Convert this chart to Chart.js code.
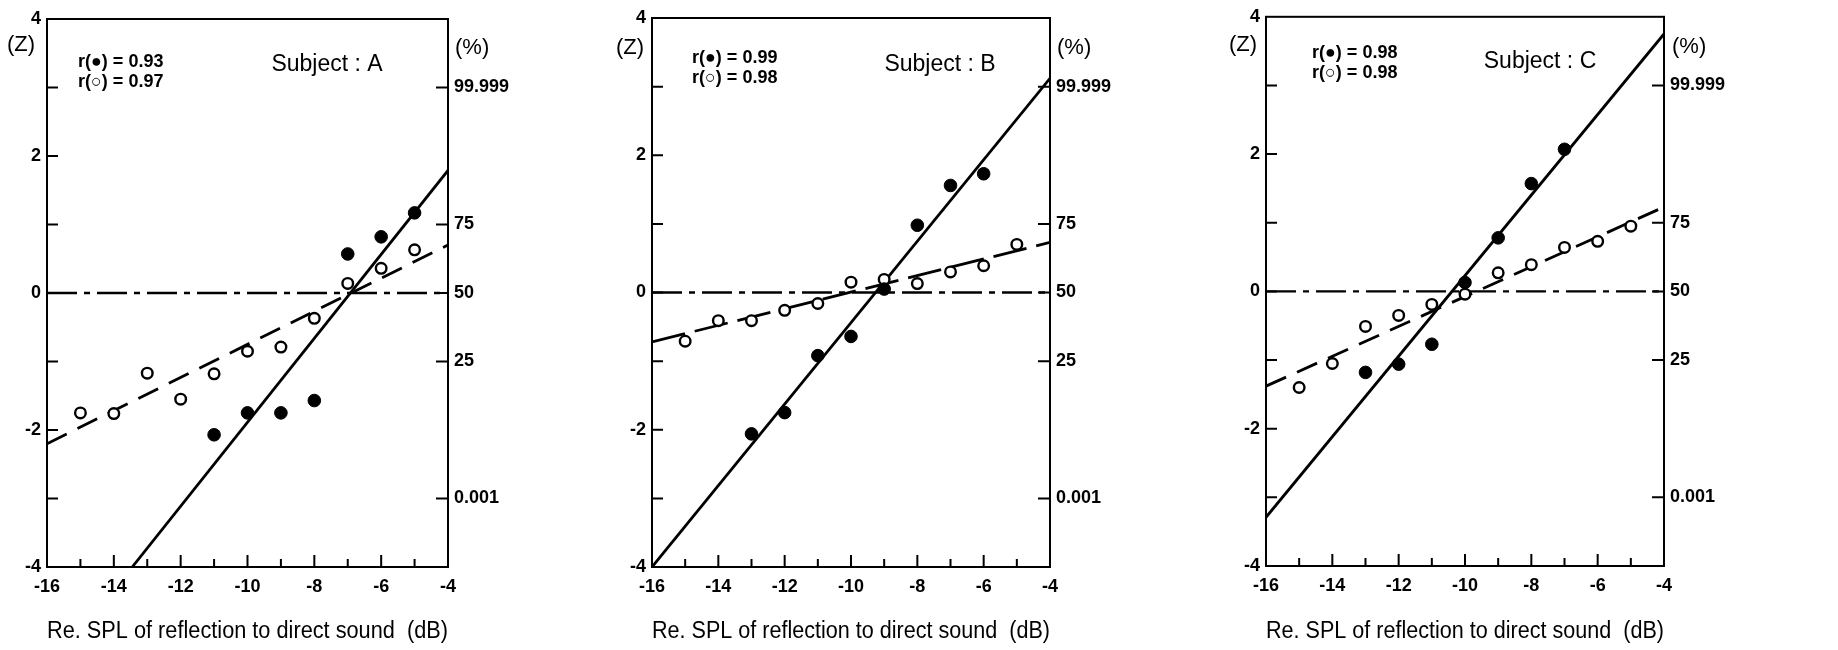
<!DOCTYPE html>
<html lang="en">
<head>
<meta charset="UTF-8">
<title>Re. SPL of reflection to direct sound</title>
<script src="https://cdn.jsdelivr.net/npm/chart.js"></script>
<style>
  html, body { margin: 0; padding: 0; background: #fff; }
  #wrap { position: relative; width: 1838px; height: 650px; overflow: hidden; }
  #wrap canvas { position: absolute; top: 0; }
</style>
</head>
<body>
<div id="wrap">
  <canvas id="subjA" width="610" height="650" style="left:0px"></canvas>
  <canvas id="subjB" width="610" height="650" style="left:610px"></canvas>
  <canvas id="subjC" width="618" height="650" style="left:1220px"></canvas>
</div>

<script>
// Z-score axis and percentage labels on the right
const zTicks = [-4, -3, -2, -1, 0, 1, 2, 3, 4];
const pctTickZ = [3, 1, 0, -1, -3];
const pctTickLabels = ['99.999', '75', '50', '25', '0.001'];

// Subject A
const aFilledX = [-11, -10, -9, -8, -7, -6, -5];
const aFilledZ = [-2.07, -1.75, -1.75, -1.57, 0.57, 0.82, 1.17];
const aOpenX = [-15, -14, -13, -12, -11, -10, -9, -8, -7, -6, -5];
const aOpenZ = [-1.75, -1.76, -1.17, -1.55, -1.18, -0.85, -0.79, -0.37, 0.14, 0.36, 0.63];
const aSolidX = [-13.45, -4];
const aSolidZ = [-4, 1.79];
const aDashX = [-16, -4];
const aDashZ = [-2.2, 0.70];
const aR = ['0.93', '0.97'];

// Subject B
const bFilledX = [-13, -12, -11, -10, -9, -8, -7, -6];
const bFilledZ = [-2.06, -1.75, -0.92, -0.64, 0.05, 0.98, 1.56, 1.73];
const bOpenX = [-15, -14, -13, -12, -11, -10, -9, -8, -7, -6, -5];
const bOpenZ = [-0.71, -0.41, -0.41, -0.26, -0.16, 0.15, 0.19, 0.13, 0.30, 0.39, 0.70];
const bSolidX = [-16, -4];
const bSolidZ = [-4, 3.12];
const bDashX = [-16, -4];
const bDashZ = [-0.72, 0.73];
const bR = ['0.99', '0.98'];

// Subject C
const cFilledX = [-13, -12, -11, -10, -9, -8, -7];
const cFilledZ = [-1.18, -1.06, -0.77, 0.13, 0.78, 1.57, 2.07];
const cOpenX = [-15, -14, -13, -12, -11, -10, -9, -8, -7, -6, -5];
const cOpenZ = [-1.40, -1.05, -0.51, -0.35, -0.19, -0.04, 0.27, 0.39, 0.64, 0.73, 0.95];
const cSolidX = [-16, -4];
const cSolidZ = [-3.29, 3.75];
const cDashX = [-16, -4];
const cDashZ = [-1.38, 1.23];
const cR = ['0.98', '0.98'];

const refLineX = [-16, -4];
const refLineZ = [0, 0];

const xTitle = 'Re. SPL of reflection to direct sound  (dB)';

const NUM_FONT = { family: "'Liberation Sans', Arial, sans-serif", size: 18, weight: 'bold' };
const NARROW = "'Liberation Sans Narrow', 'Liberation Sans', Arial, sans-serif";

function pts(xs, ys) {
  return xs.map((x, i) => ({ x: x, y: ys[i] }));
}

// frame, inward tick marks and the in-panel texts
const panelDecor = {
  id: 'panelDecor',
  afterDraw(chart, args, opts) {
    const { ctx, chartArea: a, scales } = chart;
    ctx.save();
    ctx.strokeStyle = '#000';
    ctx.lineWidth = 2;
    ctx.strokeRect(a.left, a.top, a.right - a.left, a.bottom - a.top);

    ctx.beginPath();
    scales.y.ticks.forEach(t => {
      const py = scales.y.getPixelForValue(t.value);
      if (t.value > -4 && t.value < 4) {
        ctx.moveTo(a.left, py); ctx.lineTo(a.left + 11, py);
      }
    });
    scales.y2.ticks.forEach(t => {
      const py = scales.y2.getPixelForValue(t.value);
      ctx.moveTo(a.right, py); ctx.lineTo(a.right - 12, py);
    });
    scales.x.ticks.forEach(t => {
      if (t.value <= -16 || t.value >= -4) return;
      const px = scales.x.getPixelForValue(t.value);
      const len = t.value % 2 === 0 ? 12 : 8;
      ctx.moveTo(px, a.bottom); ctx.lineTo(px, a.bottom - len);
    });
    ctx.stroke();

    ctx.fillStyle = '#000';
    ctx.textBaseline = 'middle';
    ctx.font = "22px 'Liberation Sans', Arial, sans-serif";
    ctx.textAlign = 'center';
    ctx.fillText('(Z)', opts.zLabel[0], opts.zLabel[1]);
    ctx.textAlign = 'left';
    ctx.fillText('(%)', opts.pctLabel[0], opts.pctLabel[1]);

    ctx.font = "bold 18px 'Liberation Sans', Arial, sans-serif";
    ctx.fillText('r(\u25CF) = ' + opts.r[0], opts.rPos[0], opts.rPos[1]);
    ctx.fillText('r(\u25CB) = ' + opts.r[1], opts.rPos[0], opts.rPos[1] + 20);

    ctx.font = "23px " + NARROW;
    ctx.textAlign = 'center';
    ctx.fillText(opts.subject, opts.subjPos[0], opts.subjPos[1]);
    ctx.restore();
  }
};

function makePanel(id, d, box) {
  new Chart(document.getElementById(id), {
    type: 'scatter',
    data: {
      datasets: [
        { label: 'filled', data: pts(d.fx, d.fz), pointRadius: 6.3, pointHoverRadius: 6.3,
          backgroundColor: '#000', borderColor: '#000', borderWidth: 1 },
        { label: 'open', data: pts(d.ox, d.oz), pointRadius: 5.3, pointHoverRadius: 5.3,
          backgroundColor: '#fff', borderColor: '#000', borderWidth: 2.4 },
        { label: 'fit filled', data: pts(d.sx, d.sz), showLine: true, pointRadius: 0,
          borderColor: '#000', borderWidth: 2.8 },
        { label: 'fit open', data: pts(d.dx, d.dz), showLine: true, pointRadius: 0,
          borderColor: '#000', borderWidth: 2.8, borderDash: d.dash },
        { label: 'z = 0', data: pts(refLineX, refLineZ), showLine: true, pointRadius: 0,
          borderColor: '#000', borderWidth: 2.4, borderDash: [30, 7, 6, 7] }
      ]
    },
    options: {
      responsive: false,
      animation: false,
      events: [],
      layout: { padding: { top: box.top, left: 0, right: 0, bottom: 0 } },
      plugins: {
        legend: { display: false },
        tooltip: { enabled: false },
        panelDecor: { zLabel: box.zLabel, pctLabel: box.pctLabel, r: d.r,
          rPos: box.rPos, subject: d.subject, subjPos: box.subjPos }
      },
      scales: {
        x: {
          type: 'linear', min: -16, max: -4,
          afterFit: s => { s.height = 650 - box.bottom; },
          grid: { display: false, drawTicks: false },
          border: { display: false },
          ticks: { stepSize: 1, padding: 9, color: '#000', font: NUM_FONT, maxRotation: 0,
            autoSkip: false, callback: v => (v % 2 === 0 ? String(v) : '') },
          title: { display: true, text: xTitle, color: '#000',
            font: { family: NARROW, size: 23 }, padding: { top: 0, bottom: 5 } }
        },
        y: {
          type: 'linear', position: 'left', min: -4, max: 4,
          afterFit: s => { s.width = box.left; },
          afterBuildTicks: s => { s.ticks = zTicks.map(v => ({ value: v })); },
          grid: { display: false, drawTicks: false },
          border: { display: false },
          ticks: { padding: 6, color: '#000', font: NUM_FONT, autoSkip: false,
            callback: v => (v % 2 === 0 ? String(v) : '') }
        },
        y2: {
          type: 'linear', position: 'right', min: -4, max: 4,
          afterFit: s => { s.width = box.width - box.right; },
          afterBuildTicks: s => { s.ticks = pctTickZ.map(v => ({ value: v })); },
          grid: { display: false, drawTicks: false },
          border: { display: false },
          ticks: { padding: 6, color: '#000', font: NUM_FONT, autoSkip: false,
            callback: v => pctTickLabels[pctTickZ.indexOf(v)] }
        }
      }
    },
    plugins: [panelDecor]
  });
}

makePanel('subjA',
  { fx: aFilledX, fz: aFilledZ, ox: aOpenX, oz: aOpenZ, sx: aSolidX, sz: aSolidZ,
    dx: aDashX, dz: aDashZ, dash: [22, 12], r: aR, subject: 'Subject : A' },
  { width: 610, left: 47, right: 448, top: 19, bottom: 567,
    zLabel: [21, 45], pctLabel: [455, 48], rPos: [78, 62], subjPos: [327, 65] });

makePanel('subjB',
  { fx: bFilledX, fz: bFilledZ, ox: bOpenX, oz: bOpenZ, sx: bSolidX, sz: bSolidZ,
    dx: bDashX, dz: bDashZ, dash: [34, 10], r: bR, subject: 'Subject : B' },
  { width: 610, left: 42, right: 440, top: 18, bottom: 567,
    zLabel: [20, 48], pctLabel: [447, 48], rPos: [82, 58], subjPos: [330, 65] });

makePanel('subjC',
  { fx: cFilledX, fz: cFilledZ, ox: cOpenX, oz: cOpenZ, sx: cSolidX, sz: cSolidZ,
    dx: cDashX, dz: cDashZ, dash: [22, 12], r: cR, subject: 'Subject : C' },
  { width: 618, left: 46, right: 444, top: 15, bottom: 566,
    zLabel: [23, 45], pctLabel: [452, 47], rPos: [92, 53], subjPos: [320, 62] });
</script>
</body>
</html>
